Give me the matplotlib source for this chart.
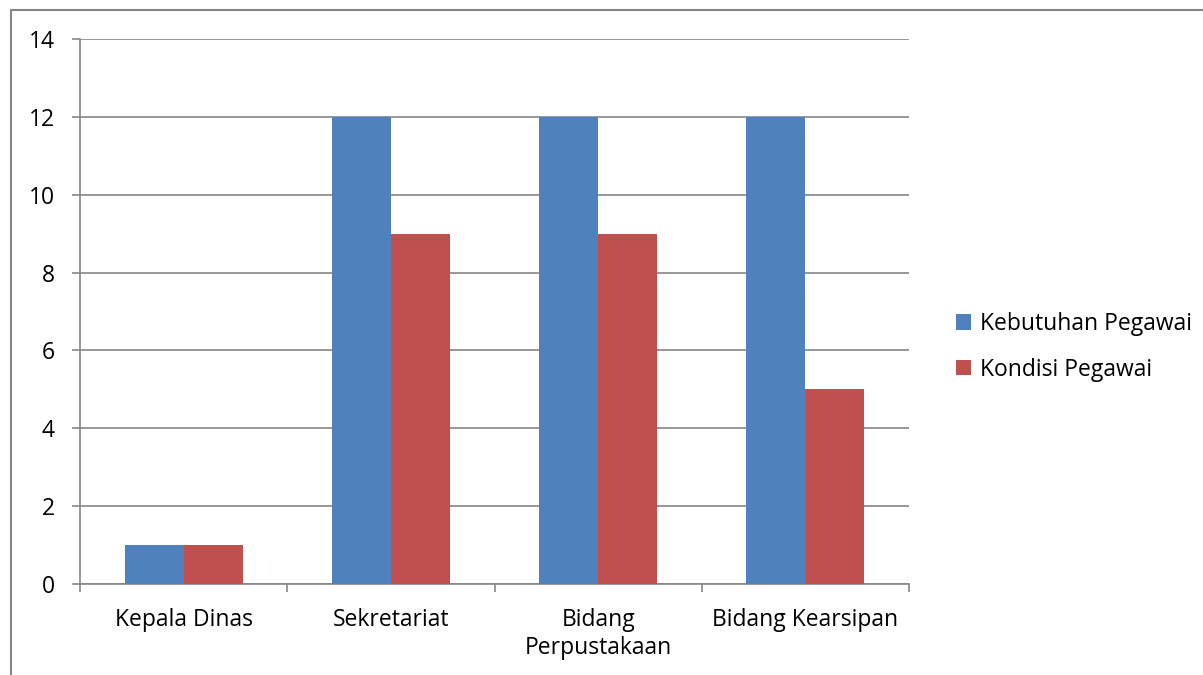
import matplotlib.pyplot as plt
import numpy as np

categories = ["Kepala Dinas", "Sekretariat", "Bidang\nPerpustakaan", "Bidang Kearsipan"]
kebutuhan = [1, 12, 12, 12]
kondisi = [1, 9, 9, 5]
series_names = ["Kebutuhan Pegawai", "Kondisi Pegawai"]

plt.rcParams['font.family'] = ['Open Sans', 'DejaVu Sans']
grey = '#868686'

fig = plt.figure(figsize=(12.03, 6.75), dpi=100)
# outer chart border (only left and top visible in reference)
fig.add_artist(plt.Line2D([11 / 1203, 11 / 1203], [0, 1 - 10 / 675], color=grey, lw=1.5))
fig.add_artist(plt.Line2D([11 / 1203, 1], [1 - 10 / 675, 1 - 10 / 675], color=grey, lw=1.5))

ax = fig.add_axes([80 / 1203, 1 - 584 / 675, 829 / 1203, 545 / 675])

x = np.arange(len(categories))
w = 0.285
ax.bar(x - w / 2, kebutuhan, w, color='#4F81BD', label=series_names[0], zorder=3)
ax.bar(x + w / 2, kondisi, w, color='#C0504D', label=series_names[1], zorder=3)

ax.set_xlim(-0.5, len(categories) - 0.5)
ax.set_ylim(0, 14)
ax.set_yticks(range(0, 15, 2))
ax.yaxis.grid(True, color=grey, lw=1.2, zorder=0)

ax.set_xticks(x)
ax.set_xticklabels(categories, fontsize=16.5, linespacing=1.25)
ax.set_xticks(np.arange(-0.5, len(categories)), minor=True)
ax.tick_params(axis='x', which='major', length=0, pad=17)
ax.tick_params(axis='x', which='minor', length=6, color=grey, width=1.2)
ax.tick_params(axis='y', length=6, color=grey, width=1.2, labelsize=16.5, pad=12)

for s in ['top', 'right']:
    ax.spines[s].set_visible(False)
for s in ['left', 'bottom']:
    ax.spines[s].set_color(grey)
    ax.spines[s].set_linewidth(1.2)

fig.legend(loc='center left', bbox_to_anchor=(935 / 1203, 1 - 347 / 675), frameon=False,
           fontsize=16.5, handlelength=0.65, handleheight=0.65, handletextpad=0.4, labelspacing=0.95)

fig.savefig('out.png', dpi=100)
